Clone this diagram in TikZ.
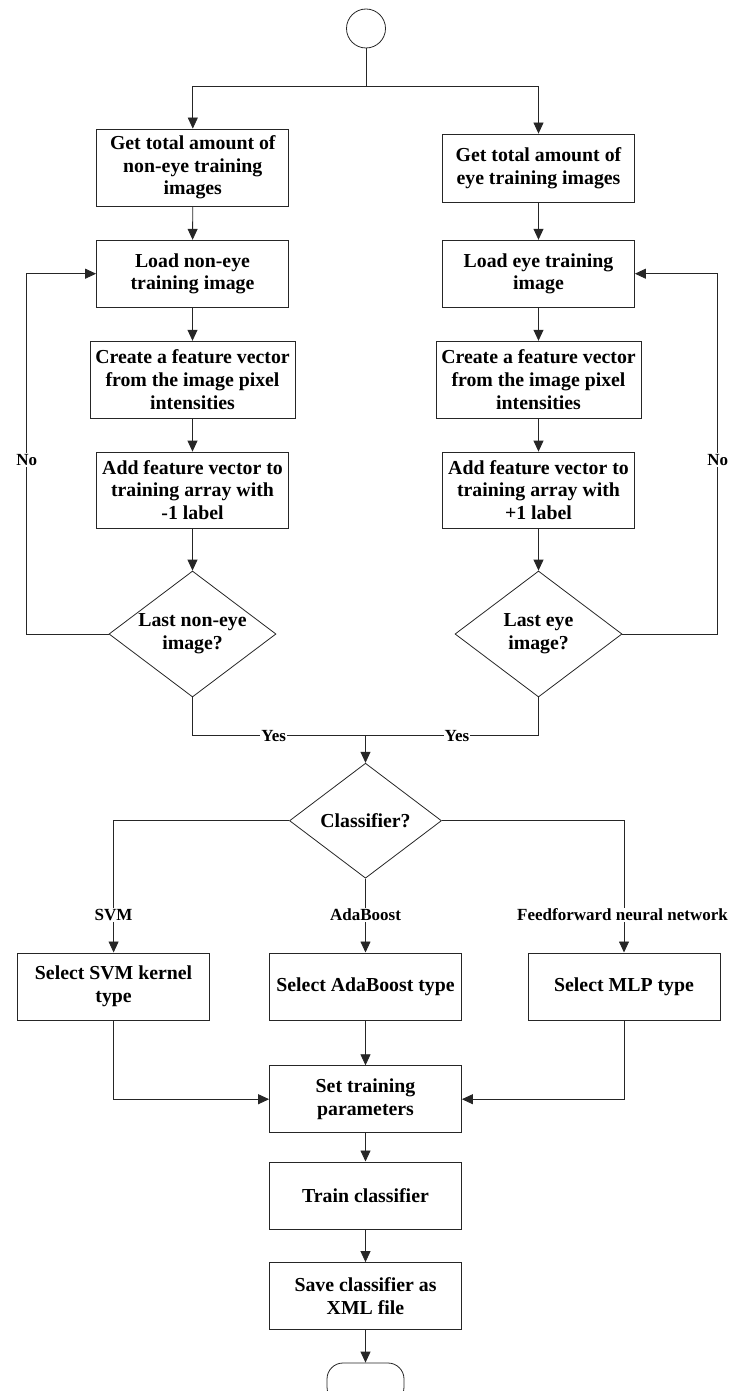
\documentclass[tikz,border=0pt]{standalone}
\usepackage{fontspec}
\setmainfont{Liberation Serif}
\usetikzlibrary{shapes.geometric,arrows.meta}
\begin{document}
\begin{tikzpicture}[x=1pt,y=-1pt,
  line width=0.8pt,
  box/.style={draw=black!85, rectangle, align=center, inner sep=2pt,
    minimum width=192pt, minimum height=67pt,
    font=\bfseries\fontsize{19.8}{22.7}\selectfont},
  dia/.style={draw=black!85, diamond, inner sep=0pt},
  diatext/.style={align=center, inner sep=0pt, font=\bfseries\fontsize{19.8}{22.7}\selectfont},
  lbl/.style={fill=white, inner sep=1pt, font=\bfseries\fontsize{17}{20}\selectfont},
  arr/.style={draw=black!85, -{Triangle[length=11pt,width=10pt]}},
  ln/.style={draw=black!85}
]
\useasboundingbox (0,0) rectangle (731,1391);

% start
\node[draw=black!85, circle, minimum size=39pt, inner sep=0pt] (start) at (366,28.5) {};
\coordinate (split) at (366,86);

% left column
\node[box, minimum height=77pt] (lb1) at (192.8,167.5) {Get total amount of\\non-eye training\\images};
\node[box] (lb2) at (192.5,273.7) {Load non-eye\\training image};
\node[box, minimum width=205pt, minimum height=77pt] (lb3) at (192.5,379.7) {Create a feature vector\\from the image pixel\\intensities};
\node[box, minimum height=76pt] (lb4) at (192.5,490) {Add feature vector to\\training array with\\-1 label};
\node[dia, minimum width=167pt, minimum height=126pt] (ld) at (192.5,634) {};
\node[diatext] (ldt) at (ld.center) {Last non-eye\\image?};

% right column
\node[box, minimum height=68pt] (rb1) at (538.5,168) {Get total amount of\\eye training images};
\node[box] (rb2) at (538.5,273.7) {Load eye training\\image};
\node[box, minimum width=205pt, minimum height=77pt] (rb3) at (538.5,379.7) {Create a feature vector\\from the image pixel\\intensities};
\node[box, minimum height=76pt] (rb4) at (538.5,490) {Add feature vector to\\training array with\\+1 label};
\node[dia, minimum width=167pt, minimum height=126pt] (rd) at (538.5,634) {};
\node[diatext] (rdt) at (rd.center) {Last eye\\image?};

% classifier
\coordinate (join) at (365.5,735);
\node[dia, minimum width=152pt, minimum height=115pt] (cls) at (365.5,820.7) {};
\node[diatext] (clst) at (cls.center) {Classifier?};

\node[box] (svm) at (113.6,986.4) {Select SVM kernel\\type};
\node[box] (ada) at (365.5,986.4) {Select AdaBoost type};
\node[box] (mlp) at (624,986.4) {Select MLP type};

\node[box] (set) at (365.5,1099.2) {Set training\\parameters};
\node[box] (train) at (365.5,1195.4) {Train classifier};
\node[box] (save) at (365.5,1296) {Save classifier as\\XML file};
\node[draw=black!85, rectangle, rounded corners=16pt, minimum width=77pt, minimum height=40pt] (stop) at (365.5,1383) {};

% connectors top
\draw[ln] (start.south) -- (split);
\draw[arr] (split) -| (lb1.north);
\draw[arr] (split) -| (rb1.north);
\draw[arr] (lb1) -- (lb2);
\draw[arr] (lb2) -- (lb3);
\draw[arr] (lb3) -- (lb4);
\draw[arr] (lb4) -- (ld.north);
\draw[arr] (rb1) -- (rb2);
\draw[arr] (rb2) -- (rb3);
\draw[arr] (rb3) -- (rb4);
\draw[arr] (rb4) -- (rd.north);

% No loops
\coordinate (nlc) at (26.7,634);
\coordinate (nrc) at (717.7,634);
\draw[arr] (ld.west) -- (nlc) |- (lb2.west);
\draw[arr] (rd.east) -- (nrc) |- (rb2.east);
\node[lbl] (nol) at (26.7,460) {No};
\node[lbl] (nor) at (717.7,460) {No};

% Yes
\draw[ln] (ld.south) |- (join);
\draw[ln] (rd.south) |- (join);
\draw[arr] (join) -- (cls.north);
\node[lbl] (yl) at (273.7,736.5) {Yes};
\node[lbl] (yr) at (457,736.5) {Yes};

% classifier branches
\draw[arr] (cls.west) -| (svm.north);
\draw[arr] (cls.south) -- (ada.north);
\draw[arr] (cls.east) -| (mlp.north);
\node[lbl] (lsvm) at (113.6,915) {SVM};
\node[lbl] (lada) at (365.5,915) {AdaBoost};
\node[lbl] (lmlp) at (622.5,915) {Feedforward neural network};

% bottom
\draw[arr] (svm.south) |- (set.west);
\draw[arr] (mlp.south) |- (set.east);
\draw[arr] (ada) -- (set);
\draw[arr] (set) -- (train);
\draw[arr] (train) -- (save);
\draw[arr] (save) -- (stop.north);
\end{tikzpicture}
\end{document}
